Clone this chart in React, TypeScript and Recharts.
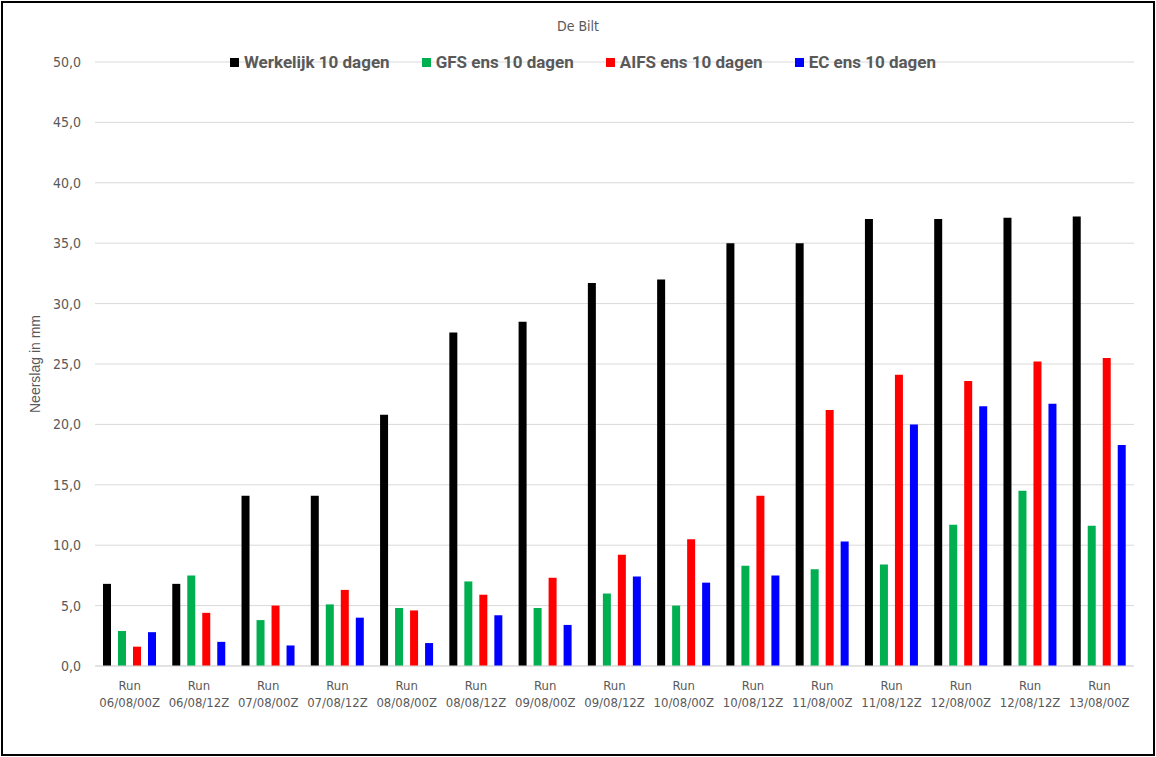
import { BarChart, Bar, XAxis, YAxis, CartesianGrid, Legend, Label } from 'recharts';

const categories = [
  'Run 06/08/00Z', 'Run 06/08/12Z', 'Run 07/08/00Z', 'Run 07/08/12Z', 'Run 08/08/00Z',
  'Run 08/08/12Z', 'Run 09/08/00Z', 'Run 09/08/12Z', 'Run 10/08/00Z', 'Run 10/08/12Z',
  'Run 11/08/00Z', 'Run 11/08/12Z', 'Run 12/08/00Z', 'Run 12/08/12Z', 'Run 13/08/00Z',
];

const werkelijk = [6.8, 6.8, 14.1, 14.1, 20.8, 27.6, 28.5, 31.7, 32.0, 35.0, 35.0, 37.0, 37.0, 37.1, 37.2];
const gfs = [2.9, 7.5, 3.8, 5.1, 4.8, 7.0, 4.8, 6.0, 5.0, 8.3, 8.0, 8.4, 11.7, 14.5, 11.6];
const aifs = [1.6, 4.4, 5.0, 6.3, 4.6, 5.9, 7.3, 9.2, 10.5, 14.1, 21.2, 24.1, 23.6, 25.2, 25.5];
const ec = [2.8, 2.0, 1.7, 4.0, 1.9, 4.2, 3.4, 7.4, 6.9, 7.5, 10.3, 20.0, 21.5, 21.7, 18.3];

const yTicks = [0, 5, 10, 15, 20, 25, 30, 35, 40, 45, 50];

const series = [
  { key: 'werkelijk', name: 'Werkelijk 10 dagen', color: '#000000' },
  { key: 'gfs', name: 'GFS ens 10 dagen', color: '#00b050' },
  { key: 'aifs', name: 'AIFS ens 10 dagen', color: '#ff0000' },
  { key: 'ec', name: 'EC ens 10 dagen', color: '#0000ff' },
];

const data = categories.map((run, i) => ({
  run,
  werkelijk: werkelijk[i],
  gfs: gfs[i],
  aifs: aifs[i],
  ec: ec[i],
}));

const FONT = "'Liberation Sans Narrow', 'DejaVu Sans Condensed', sans-serif";
const TEXT = '#595959';

const RunTick = ({ x, y, payload }: { x?: number; y?: number; payload?: { value: string } }) => {
  const [first, second] = (payload?.value ?? '').split(' ');
  return (
    <g transform={`translate(${x},${y})`}>
      <text textAnchor="middle" fill={TEXT} fontSize={13} fontFamily={FONT}>
        <tspan x={0} dy={22}>{first}</tspan>
        <tspan x={0} dy={17}>{second}</tspan>
      </text>
    </g>
  );
};

const ChartLegend = () => (
  <div style={{ display: 'flex', justifyContent: 'center', paddingLeft: 10, gap: 32 }}>
    {series.map(s => (
      <div key={s.key} style={{ display: 'flex', alignItems: 'center' }}>
        <span style={{ width: 9, height: 9, background: s.color, marginRight: 5, display: 'inline-block' }} />
        <span style={{ fontFamily: 'Roboto, sans-serif', fontWeight: 700, fontSize: 17, color: TEXT, lineHeight: '18px' }}>
          {s.name}
        </span>
      </div>
    ))}
  </div>
);

export default function App() {
  return (
    <div style={{ position: 'relative', width: 1154, height: 755, margin: 1, boxSizing: 'border-box', border: '2px solid #000', background: '#fff' }}>
      <style>{'body { margin: 0; }'}</style>
      {/* Title */}
      <div style={{ position: 'absolute', top: 15, left: 0, width: 1150, textAlign: 'center', fontFamily: FONT, fontSize: 14, color: TEXT }}>
        De Bilt
      </div>
      <BarChart
        width={1150}
        height={751}
        data={data}
        margin={{ top: 41, right: 19, left: 0, bottom: 28 }}
        barSize={8}
        barGap={7}
      >
        <CartesianGrid vertical={false} stroke="#d9d9d9" />
        <XAxis
          dataKey="run"
          tick={<RunTick />}
          tickLine={false}
          tickSize={0}
          axisLine={{ stroke: '#d9d9d9' }}
          interval={0}
          height={60}
        />
        <YAxis
          domain={[0, 50]}
          ticks={yTicks}
          width={92}
          axisLine={false}
          tickLine={false}
          tickSize={0}
          tickMargin={14}
          tickFormatter={(v: number) => v.toFixed(1).replace('.', ',')}
          tick={{ fill: TEXT, fontSize: 14, fontFamily: FONT }}
        >
          <Label
            value="Neerslag in mm"
            angle={-90}
            position="insideLeft"
            offset={32}
            style={{ textAnchor: 'middle', fill: TEXT, fontSize: 14, fontFamily: "'Liberation Sans', sans-serif" }}
          />
        </YAxis>
        <Legend verticalAlign="top" content={<ChartLegend />} wrapperStyle={{ top: 50, left: 0, width: 1150 }} />
        {series.map(s => (
          <Bar key={s.key} dataKey={s.key} name={s.name} fill={s.color} isAnimationActive={false} />
        ))}
      </BarChart>
    </div>
  );
}
